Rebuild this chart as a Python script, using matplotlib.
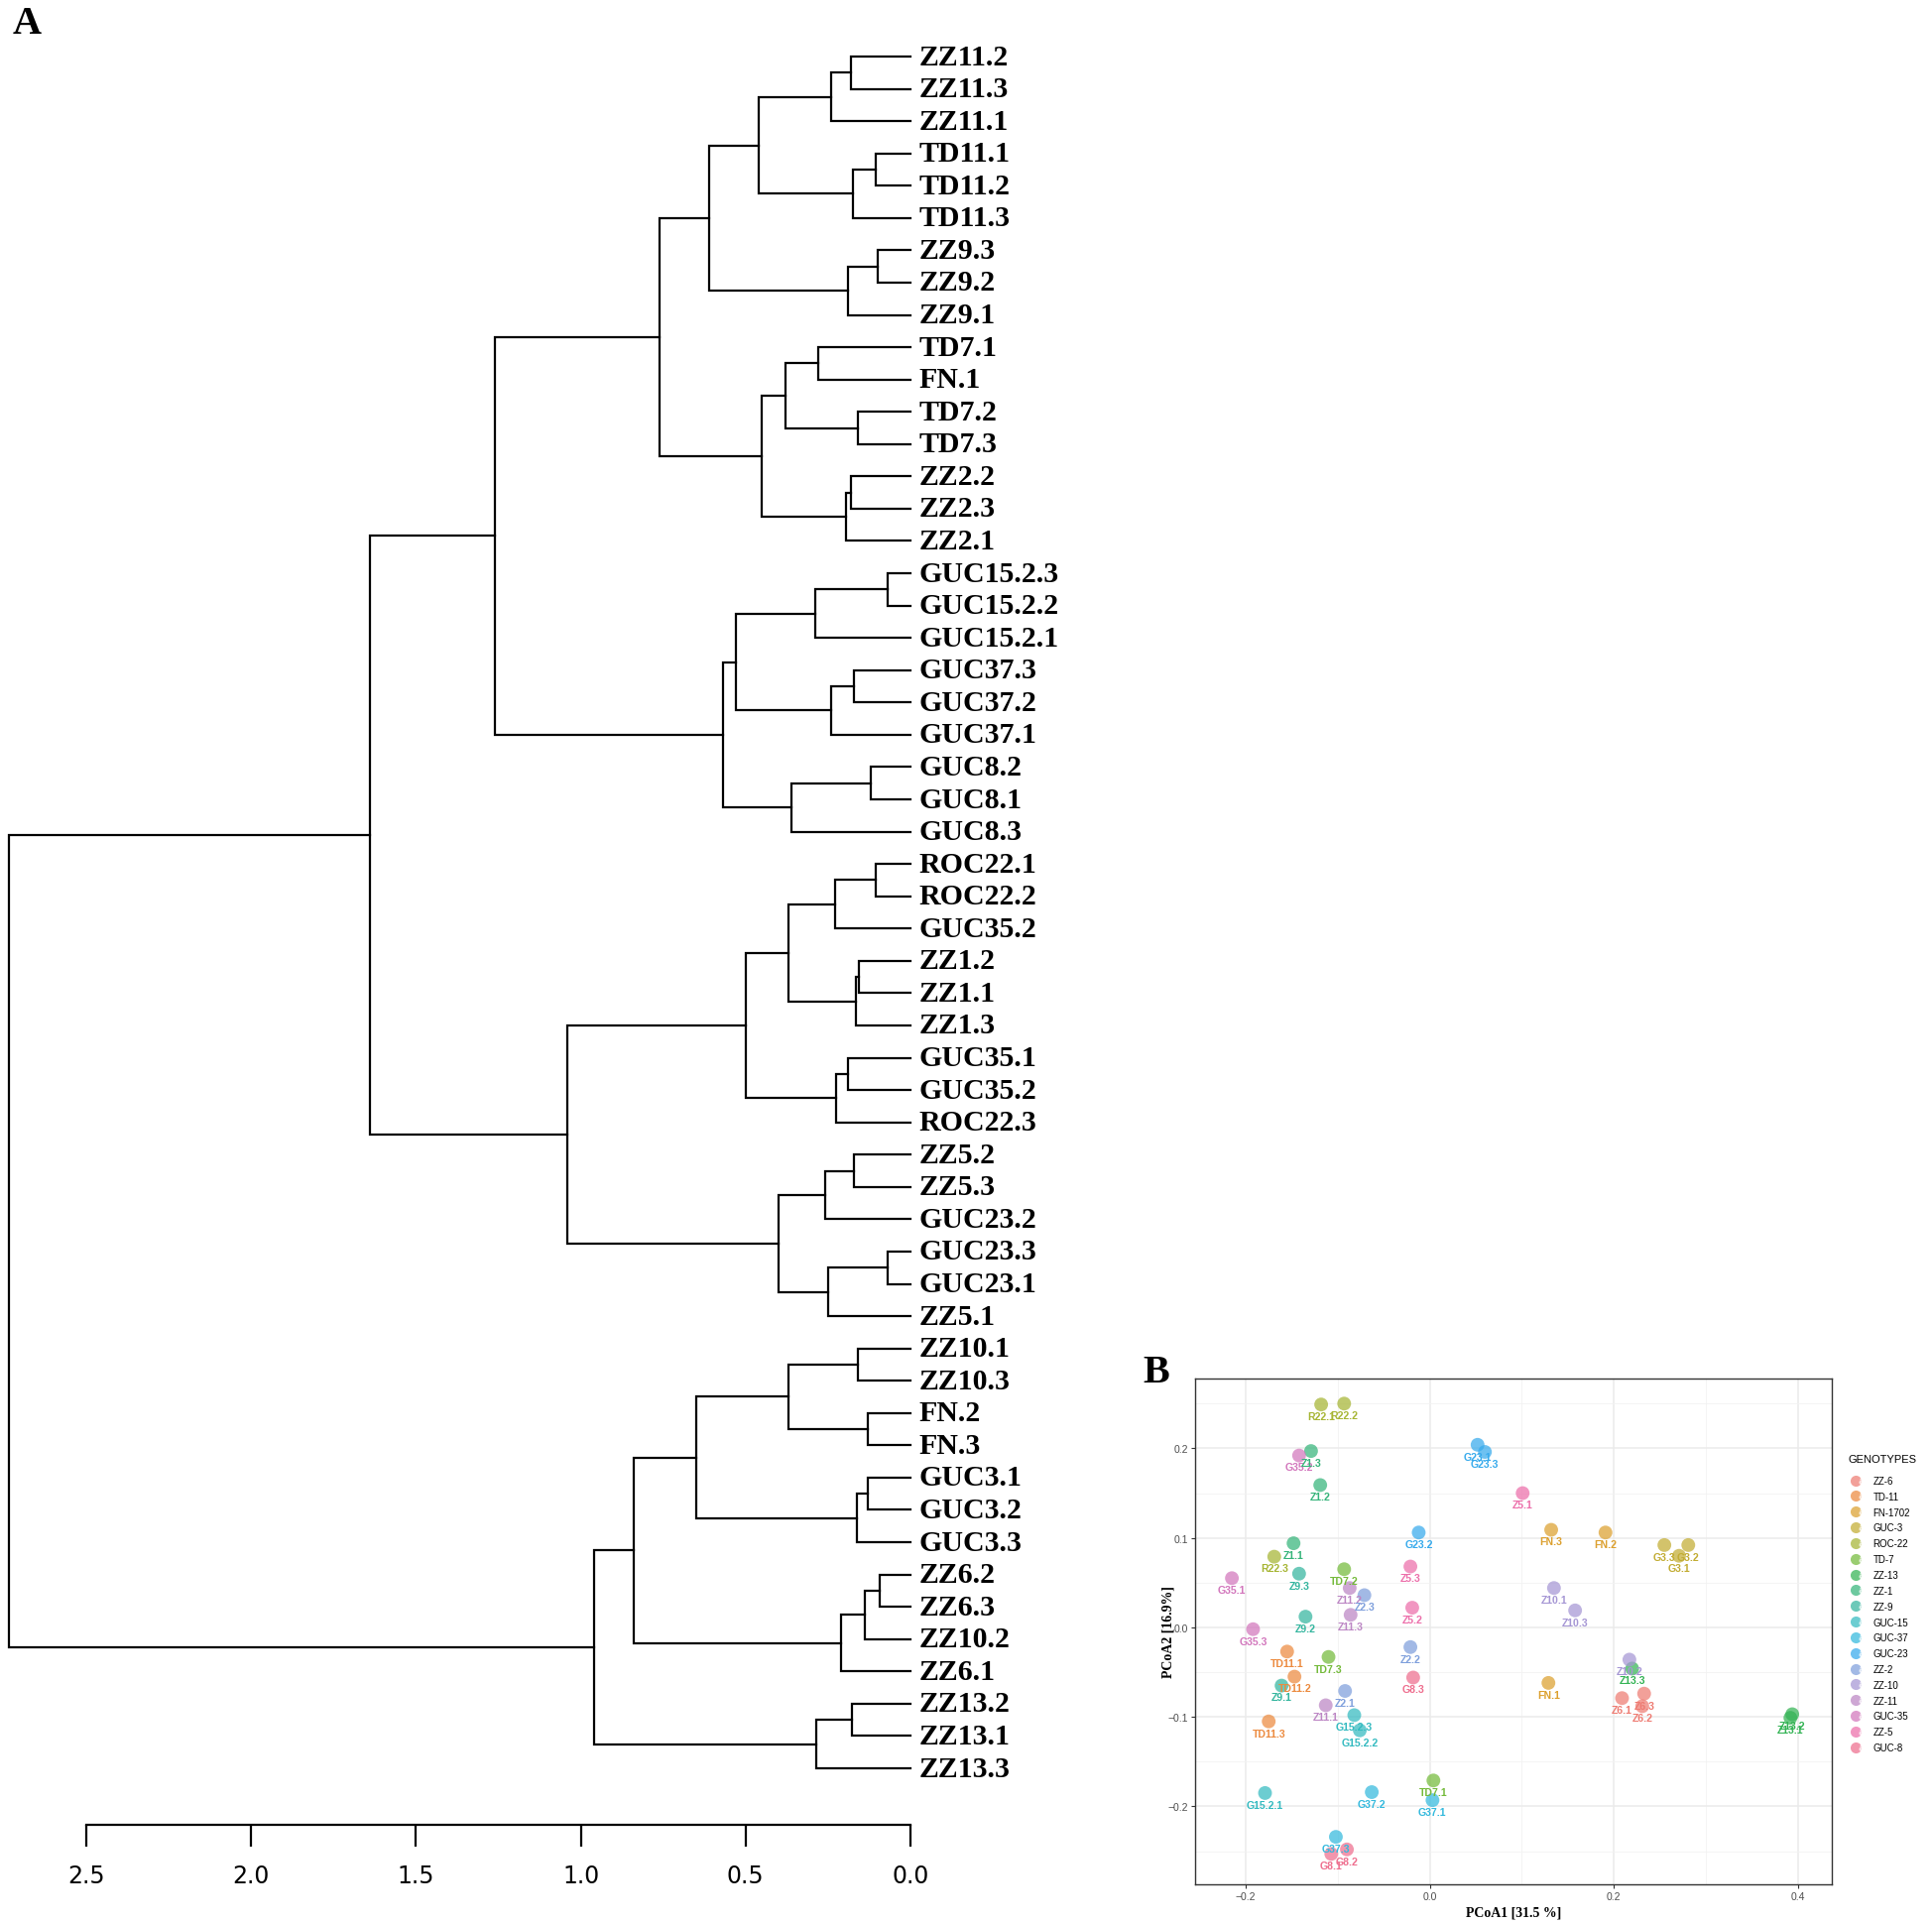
import matplotlib
matplotlib.use("Agg")
import matplotlib.pyplot as plt
from matplotlib.lines import Line2D
from matplotlib.legend_handler import HandlerTuple

# ---------------- A : dendrogram, clusters written as (height, left, right) ----------------
zz11 = (0.24, (0.18, "ZZ11.2", "ZZ11.3"), "ZZ11.1")
td11 = (0.175, (0.106, "TD11.1", "TD11.2"), "TD11.3")
zz9 = (0.19, (0.10, "ZZ9.3", "ZZ9.2"), "ZZ9.1")
td7 = (0.38, (0.28, "TD7.1", "FN.1"), (0.16, "TD7.2", "TD7.3"))
zz2 = (0.197, (0.18, "ZZ2.2", "ZZ2.3"), "ZZ2.1")
guc15 = (0.29, (0.07, "GUC15.2.3", "GUC15.2.2"), "GUC15.2.1")
guc37 = (0.24, (0.17, "GUC37.3", "GUC37.2"), "GUC37.1")
guc8 = (0.36, (0.12, "GUC8.2", "GUC8.1"), "GUC8.3")
roc = (0.23, (0.106, "ROC22.1", "ROC22.2"), "GUC35.2")
zz1 = (0.165, (0.155, "ZZ1.2", "ZZ1.1"), "ZZ1.3")
guc35 = (0.226, (0.19, "GUC35.1", "GUC35.2"), "ROC22.3")
zz5 = (0.26, (0.17, "ZZ5.2", "ZZ5.3"), "GUC23.2")
guc23 = (0.25, (0.068, "GUC23.3", "GUC23.1"), "ZZ5.1")
zz10_fn = (0.37, (0.16, "ZZ10.1", "ZZ10.3"), (0.13, "FN.2", "FN.3"))
guc3 = (0.163, (0.13, "GUC3.1", "GUC3.2"), "GUC3.3")
zz6 = (0.21, (0.137, (0.093, "ZZ6.2", "ZZ6.3"), "ZZ10.2"), "ZZ6.1")
zz13 = (0.287, (0.177, "ZZ13.2", "ZZ13.1"), "ZZ13.3")

clus_a = (0.76, (0.61, (0.46, zz11, td11), zz9), (0.45, td7, zz2))
clus_c = (0.57, (0.53, guc15, guc37), guc8)
clus_d = (0.50, (0.37, roc, zz1), guc35)
clus_e = (0.40, zz5, guc23)
upper = (1.64, (1.26, clus_a, clus_c), (1.04, clus_d, clus_e))
lower = (0.96, (0.84, (0.65, zz10_fn, guc3), zz6), zz13)
root = (2.735, upper, lower)

dend_ticks = [2.5, 2.0, 1.5, 1.0, 0.5, 0.0]

# ---------------- B : PCoA ----------------
genotypes = ["ZZ-6", "TD-11", "FN-1702", "GUC-3", "ROC-22", "TD-7", "ZZ-13", "ZZ-1", "ZZ-9",
             "GUC-15", "GUC-37", "GUC-23", "ZZ-2", "ZZ-10", "ZZ-11", "GUC-35", "ZZ-5", "GUC-8"]
geno_colors = ["#EE7B72", "#EC8A3E", "#DCA02E", "#C2AC32", "#A6B533", "#74BA3A", "#33B354", "#35B47A",
               "#33B59E", "#33BAC0", "#33B9DD", "#36AAEC", "#7E9FDC", "#A596D4", "#BC86C4", "#D276BC",
               "#EC6EAA", "#EE6E8E"]

pcoa_labels = ["R22.1", "R22.2", "R22.3", "G35.1", "G35.2", "G35.3", "Z1.1", "Z1.2", "Z1.3",
               "G23.1", "G23.2", "G23.3", "Z5.1", "Z5.2", "Z5.3", "FN.1", "FN.2", "FN.3",
               "G3.1", "G3.2", "G3.3", "Z9.1", "Z9.2", "Z9.3", "TD7.1", "TD7.2", "TD7.3",
               "Z11.1", "Z11.2", "Z11.3", "Z2.1", "Z2.2", "Z2.3", "Z10.1", "Z10.2", "Z10.3",
               "TD11.1", "TD11.2", "TD11.3", "G8.1", "G8.2", "G8.3", "G15.2.1", "G15.2.2", "G15.2.3",
               "Z13.1", "Z13.2", "Z13.3", "Z6.1", "Z6.2", "Z6.3", "G37.1", "G37.2", "G37.3"]
pcoa_group = ["ROC-22"] * 3 + ["GUC-35"] * 3 + ["ZZ-1"] * 3 + ["GUC-23"] * 3 + ["ZZ-5"] * 3 + \
             ["FN-1702"] * 3 + ["GUC-3"] * 3 + ["ZZ-9"] * 3 + ["TD-7"] * 3 + ["ZZ-11"] * 3 + \
             ["ZZ-2"] * 3 + ["ZZ-10"] * 3 + ["TD-11"] * 3 + ["GUC-8"] * 3 + ["GUC-15"] * 3 + \
             ["ZZ-13"] * 3 + ["ZZ-6"] * 3 + ["GUC-37"] * 3
pcoa1 = [-0.118, -0.093, -0.169, -0.215, -0.142, -0.192, -0.148, -0.119, -0.129,
         0.052, -0.012, 0.060, 0.101, -0.019, -0.021, 0.129, 0.191, 0.132,
         0.271, 0.281, 0.255, -0.161, -0.135, -0.142, 0.004, -0.093, -0.110,
         -0.113, -0.087, -0.086, -0.092, -0.021, -0.071, 0.135, 0.217, 0.158,
         -0.155, -0.147, -0.175, -0.107, -0.090, -0.018, -0.179, -0.076, -0.082,
         0.392, 0.394, 0.220, 0.209, 0.231, 0.233, 0.003, -0.063, -0.102]
pcoa2 = [0.249, 0.250, 0.079, 0.055, 0.192, -0.002, 0.094, 0.159, 0.197,
         0.204, 0.106, 0.196, 0.150, 0.022, 0.068, -0.062, 0.106, 0.109,
         0.080, 0.092, 0.092, -0.065, 0.012, 0.060, -0.171, 0.065, -0.033,
         -0.087, 0.044, 0.014, -0.071, -0.022, 0.036, 0.044, -0.036, 0.019,
         -0.027, -0.055, -0.105, -0.253, -0.248, -0.056, -0.185, -0.115, -0.098,
         -0.101, -0.097, -0.046, -0.079, -0.088, -0.074, -0.193, -0.184, -0.234]

W, H = 1948, 1940
fig = plt.figure(figsize=(W / 100, H / 100), dpi=100)
serif = "Liberation Serif"
sans = "Liberation Sans"

# ---------- panel A ----------
ax = fig.add_axes([87 / W, 1 - 1841 / H, (918 - 87) / W, (1841 - 58) / H])
leaf_names = []


def draw(node):
    # returns (y position, height) of the node and draws its branches
    if isinstance(node, str):
        leaf_names.append(node)
        return len(leaf_names) - 1, 0.0
    h, left, right = node
    y1, h1 = draw(left)
    y2, h2 = draw(right)
    ax.plot([h1, h, h, h2], [y1, y1, y2, y2], color="black", lw=1.6,
            solid_joinstyle="miter", clip_on=False)
    return (y1 + y2) / 2, h


draw(root)
for i, name in enumerate(leaf_names):
    ax.text(-0.025, i, name, ha="left", va="center", fontsize=21.5,
            fontweight="bold", family=serif)

ax.set_xlim(2.5, 0.0)
ax.set_ylim((1841 - 58) / ((1784 - 58) / 53), 0)
for s in ["top", "left", "right"]:
    ax.spines[s].set_visible(False)
ax.spines["bottom"].set_linewidth(1.6)
ax.set_yticks([])
ax.set_xticks(dend_ticks)
ax.set_xticklabels(["%.1f" % t for t in dend_ticks],
                   family=["Liberation Sans Narrow", "DejaVu Sans"], fontsize=17)
ax.tick_params(axis="x", length=16, width=1.6, pad=12)
fig.text(27 / W, 1 - 24 / H, "A", fontsize=29, fontweight="bold", family=serif,
         ha="center", va="center")

# ---------- panel B ----------
axb = fig.add_axes([1205 / W, 1 - 1901 / H, (1847 - 1205) / W, (1901 - 1391) / H])
col = dict(zip(genotypes, geno_colors))
for g in genotypes:
    xs = [x for x, gg in zip(pcoa1, pcoa_group) if gg == g]
    ys = [y for y, gg in zip(pcoa2, pcoa_group) if gg == g]
    axb.scatter(xs, ys, s=100, color=col[g], alpha=0.72, edgecolors="none", zorder=3)
for lab, x, y, g in zip(pcoa_labels, pcoa1, pcoa2, pcoa_group):
    axb.annotate(lab, (x, y), xytext=(0, -8.5), textcoords="offset points", ha="center",
                 va="center", fontsize=7.6, fontweight="bold", family=sans,
                 color=col[g], zorder=4)

axb.set_xlim(-0.255, 0.437)
axb.set_ylim(-0.287, 0.278)
axb.set_xticks([-0.2, 0.0, 0.2, 0.4])
axb.set_yticks([-0.2, -0.1, 0.0, 0.1, 0.2])
axb.set_xticks([-0.1, 0.1, 0.3], minor=True)
axb.set_yticks([-0.25, -0.15, -0.05, 0.05, 0.15, 0.25], minor=True)
axb.grid(which="major", color="#EBEBEB", lw=1.1, zorder=0)
axb.grid(which="minor", color="#F2F2F2", lw=0.6, zorder=0)
axb.tick_params(which="major", length=3, width=0.8, color="#333333", labelcolor="#4D4D4D",
                labelsize=7.5, pad=2)
axb.tick_params(which="minor", length=0)
for lbl in axb.get_xticklabels() + axb.get_yticklabels():
    lbl.set_family(sans)
for s in axb.spines.values():
    s.set_color("#333333")
    s.set_linewidth(1.0)
axb.set_xlabel("PCoA1 [31.5 %]", family=serif, fontweight="bold", fontsize=10, labelpad=3)
axb.set_ylabel("PCoA2 [16.9%]", family=serif, fontweight="bold", fontsize=10, labelpad=-5)
fig.text(1166 / W, 1 - 1385 / H, "B", fontsize=29, fontweight="bold", family=serif,
         ha="center", va="center")

# legend: title as plain text, keys below it
fig.text(1863 / W, 1 - 1472 / H, "GENOTYPES", fontsize=8, family=sans, ha="left", va="center")
handles = []
for g in genotypes:
    dot = Line2D([], [], marker="o", ls="", ms=8, color=col[g], alpha=0.72, mec="none")
    letter = Line2D([], [], marker="$a$", ls="", ms=4, color="#FFFFFF", alpha=0.6)
    handles.append((dot, letter))
fig.legend(handles, genotypes, handler_map={tuple: HandlerTuple(ndivide=None)},
           loc="upper left", bbox_to_anchor=(1868 / W, 1 - 1489 / H), frameon=False,
           prop={"family": sans, "size": 7}, labelspacing=0.6, borderpad=0,
           handlelength=1.2, handletextpad=0.9, borderaxespad=0)

fig.savefig("out.png", dpi=100)
